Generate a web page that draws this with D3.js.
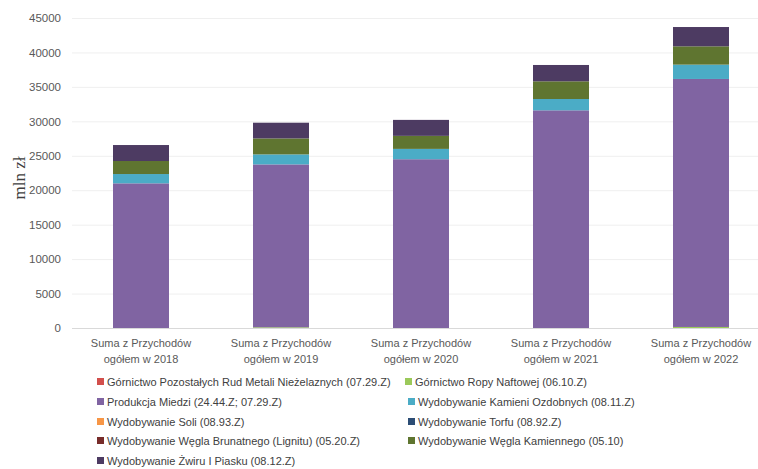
<!DOCTYPE html>
<html>
<head>
<meta charset="utf-8">
<script src="https://cdn.jsdelivr.net/npm/d3@7/dist/d3.min.js"></script>
<style>
  html, body { margin: 0; padding: 0; background: #fff; }
  svg { display: block; }
  text { font-family: "Liberation Sans", Arial, sans-serif; fill: #595959; }
</style>
</head>
<body>
<svg id="chart" width="758" height="469"></svg>
<script>
// Categories (x axis, two-line labels)
const categories = [
  "Suma z Przychodów|ogółem w 2018",
  "Suma z Przychodów|ogółem w 2019",
  "Suma z Przychodów|ogółem w 2020",
  "Suma z Przychodów|ogółem w 2021",
  "Suma z Przychodów|ogółem w 2022"
];

// Series names, in stacking order (bottom to top)
const seriesNames = [
  "Górnictwo Pozostałych Rud Metali Nieżelaznych (07.29.Z)",
  "Górnictwo Ropy Naftowej (06.10.Z)",
  "Produkcja Miedzi (24.44.Z; 07.29.Z)",
  "Wydobywanie Kamieni Ozdobnych (08.11.Z)",
  "Wydobywanie Soli (08.93.Z)",
  "Wydobywanie Torfu (08.92.Z)",
  "Wydobywanie Węgla Brunatnego (Lignitu) (05.20.Z)",
  "Wydobywanie Węgla Kamiennego (05.10)",
  "Wydobywanie Żwiru I Piasku (08.12.Z)"
];

// Revenue values, mln zł, per series (2018..2022)
const rudyMetali   = [0, 0, 0, 0, 0];
const ropaNaftowa  = [0, 100, 0, 0, 150];
const miedz        = [21000, 23650, 24500, 31600, 36000];
const kamienie     = [1350, 1450, 1500, 1640, 2080];
const sol          = [0, 0, 0, 0, 0];
const torf         = [0, 0, 0, 0, 0];
const wegielBrun   = [0, 0, 0, 0, 0];
const wegielKam    = [1890, 2320, 1890, 2570, 2660];
const zwir         = [2320, 2280, 2320, 2370, 2800];

const seriesValues = [rudyMetali, ropaNaftowa, miedz, kamienie, sol, torf, wegielBrun, wegielKam, zwir];

const colors = ["#d24f4c", "#9bc95a", "#8064a2", "#4bacc6", "#f79646",
                "#2c4d75", "#772c2a", "#5f7530", "#4d3b62"];

// Y axis ticks
const yTicks = [0, 5000, 10000, 15000, 20000, 25000, 30000, 35000, 40000, 45000];
const yTitle = "mln zł";

const svg = d3.select("#chart");
const W = 758;

const x = d3.scaleBand()
  .domain(categories)
  .range([71, 771])
  .paddingInner(0.6)
  .paddingOuter(0.3);

const y = d3.scaleLinear().domain([0, 45000]).range([328, 18]);

// Gridlines
svg.append("g")
  .attr("transform", "translate(72,0)")
  .call(d3.axisLeft(y).tickValues(yTicks).tickSize(-(W - 72)).tickFormat(""))
  .call(g => g.select(".domain").remove())
  .call(g => g.selectAll("line").attr("stroke", (d) => d === 0 ? "#d9d9d9" : "#efefef").attr("stroke-width", 1));

// Stacked bars
const rows = categories.map((c, i) => {
  const r = { cat: c };
  seriesNames.forEach((s, k) => { r[s] = seriesValues[k][i]; });
  return r;
});
const stack = d3.stack().keys(seriesNames)(rows);

svg.append("g").selectAll("g")
  .data(stack)
  .join("g")
  .attr("fill", (d, i) => colors[i])
  .selectAll("rect")
  .data(d => d)
  .join("rect")
  .attr("x", d => x(d.data.cat))
  .attr("width", x.bandwidth())
  .attr("y", d => y(d[1]))
  .attr("height", d => y(d[0]) - y(d[1]));

// Y axis labels
svg.append("g")
  .attr("transform", "translate(61,0)")
  .call(d3.axisLeft(y).tickValues(yTicks).tickSize(0).tickPadding(0).tickFormat(d3.format("d")))
  .call(g => g.select(".domain").remove())
  .call(g => g.selectAll("text")
    .style("font-family", "'Liberation Sans', Arial, sans-serif")
    .style("font-size", "11.5px")
    .attr("fill", "#595959"));

// Y axis title
svg.append("text")
  .attr("transform", "translate(25,178) rotate(-90)")
  .attr("text-anchor", "middle")
  .style("font-family", "'Liberation Serif', 'Times New Roman', serif")
  .style("font-size", "17px")
  .style("fill", "#404040")
  .text(yTitle);

// X category labels
const xl = svg.append("g").selectAll("text")
  .data(categories)
  .join("text")
  .attr("text-anchor", "middle")
  .attr("x", d => x(d) + x.bandwidth() / 2)
  .attr("y", 347)
  .style("font-size", "11px")
  .attr("fill", "#595959");
xl.selectAll("tspan")
  .data(d => d.split("|"))
  .join("tspan")
  .attr("x", function () { return d3.select(this.parentNode).attr("x"); })
  .attr("dy", (d, i) => i === 0 ? 0 : 16)
  .text(d => d);

// Legend
const legendPos = [
  [97, 382], [405, 382],
  [97, 402], [408, 402],
  [97, 422], [408, 422],
  [97, 441], [408, 441],
  [97, 461]
];
const lg = svg.append("g").selectAll("g")
  .data(seriesNames)
  .join("g")
  .attr("transform", (d, i) => `translate(${legendPos[i][0]},${legendPos[i][1]})`);
lg.append("rect")
  .attr("x", 0).attr("y", -4)
  .attr("width", 7).attr("height", 7)
  .attr("fill", (d, i) => colors[i]);
lg.append("text")
  .attr("x", 10).attr("y", 4)
  .style("font-size", "11px")
  .style("fill", "#404040")
  .text(d => d);
</script>
</body>
</html>
